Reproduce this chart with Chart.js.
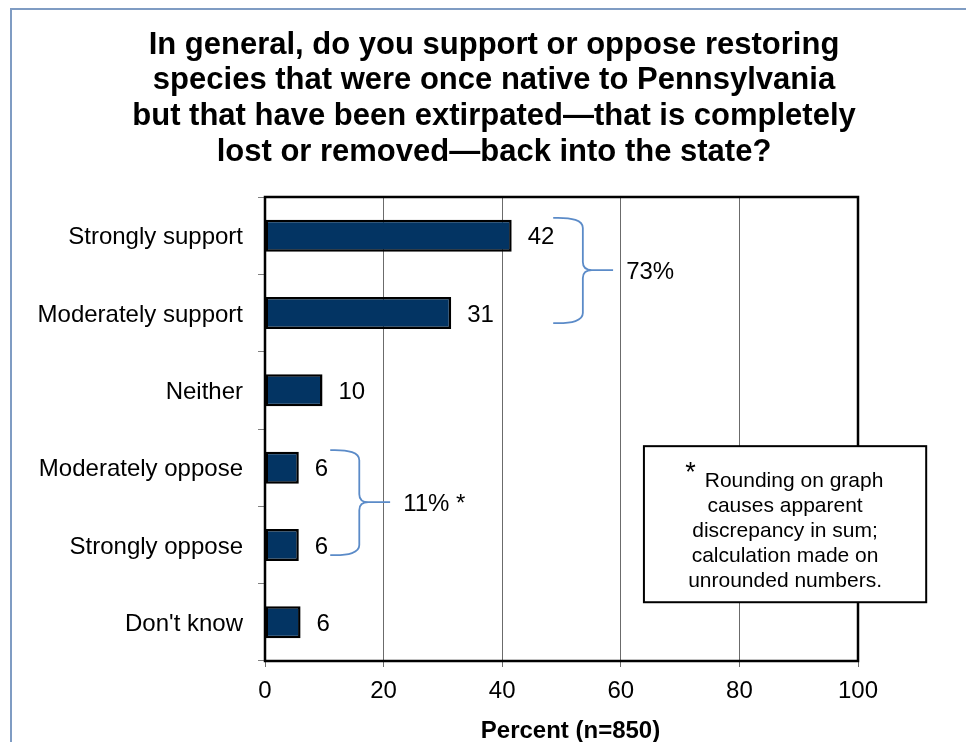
<!DOCTYPE html>
<html>
<head>
<meta charset="utf-8">
<script src="https://cdn.jsdelivr.net/npm/chart.js@4.4.0/dist/chart.umd.min.js"></script>
<style>
html, body { margin: 0; padding: 0; background: #fff; overflow: hidden; }
#frame { position: absolute; left: 10px; top: 8px; width: 1000px; height: 800px; border: 2px solid #7f9cc3; }
#c { position: absolute; left: 0; top: 0; }
</style>
</head>
<body>
<div id="frame"></div>
<canvas id="c" width="966" height="742"></canvas>
<script>
var FONT = '"Liberation Sans", Arial, sans-serif';

var titleLines = [
    "In general, do you support or oppose restoring",
    "species that were once native to Pennsylvania",
    "but that have been extirpated\u2014that is completely",
    "lost or removed\u2014back into the state?"
];
var categories = ["Strongly support", "Moderately support", "Neither", "Moderately oppose", "Strongly oppose", "Don't know"];
var percents = [41.6, 31.4, 9.7, 5.7, 5.7, 6.0];
var xTicks = [0, 20, 40, 60, 80, 100];
var xTitle = "Percent (n=850)";
var braceLabels = ["73%", "11% *"];
var noteStar = "*";
var noteLines = ["Rounding on graph", "causes apparent", "discrepancy in sum;", "calculation made on", "unrounded numbers."];

// brace + note placement, in axis units (x = percent, y = category index)
var braces = [
    { from: 48.6, spine: 53.6, tip: 58.7, top: -0.23, bottom: 1.13, mid: 0.445, text: 60.9 },
    { from: 11.0, spine: 15.9, tip: 21.1, top: 2.774, bottom: 4.13, mid: 3.446, text: 23.3 }
];
var note = { left: 63.9, right: 111.5, top: 2.722, bottom: 4.74 };

function drawBrace(ctx, xs, ys, b) {
    var x0 = xs.getPixelForValue(b.from), xv = xs.getPixelForValue(b.spine), xt = xs.getPixelForValue(b.tip);
    var yt = ys.getPixelForValue(b.top), yb = ys.getPixelForValue(b.bottom), ym = ys.getPixelForValue(b.mid);
    ctx.beginPath();
    ctx.moveTo(x0, yt);
    ctx.quadraticCurveTo(xv, yt - 1, xv, yt + 10);
    ctx.lineTo(xv, ym - 8);
    ctx.quadraticCurveTo(xv, ym, xv + 9, ym);
    ctx.lineTo(xt, ym);
    ctx.moveTo(xv + 9, ym);
    ctx.quadraticCurveTo(xv, ym, xv, ym + 8);
    ctx.lineTo(xv, yb - 10);
    ctx.quadraticCurveTo(xv, yb + 1, x0, yb);
    ctx.stroke();
}

var annot = {
    id: "annot",
    beforeDraw: function (chart) {
        // title, centred a little right of the canvas middle like the source
        var ctx = chart.ctx;
        ctx.save();
        ctx.font = "bold 31px " + FONT; ctx.fillStyle = "#000";
        ctx.textAlign = "center"; ctx.textBaseline = "middle";
        titleLines.forEach(function (t, i) { ctx.fillText(t, 494, 45 + i * 35.7); });
        ctx.restore();
    },
    afterDatasetsDraw: function (chart) {
        var ctx = chart.ctx, xs = chart.scales.x, ys = chart.scales.y, a = chart.chartArea;
        ctx.save();

        // frame round the plot
        ctx.lineWidth = 2.5; ctx.strokeStyle = "#000";
        ctx.strokeRect(a.left, a.top, a.right - a.left, a.bottom - a.top);

        // value labels
        ctx.font = "24px " + FONT; ctx.fillStyle = "#000";
        ctx.textBaseline = "middle"; ctx.textAlign = "left";
        chart.getDatasetMeta(0).data.forEach(function (bar, i) {
            ctx.fillText(String(Math.round(percents[i])), bar.x + 16, bar.y + 2);
        });

        // braces
        ctx.strokeStyle = "#5b8bc8"; ctx.lineWidth = 1.8;
        braces.forEach(function (b, i) {
            drawBrace(ctx, xs, ys, b);
            ctx.fillText(braceLabels[i], xs.getPixelForValue(b.text), ys.getPixelForValue(b.mid) + 2);
        });

        // note box
        var L = xs.getPixelForValue(note.left), R = xs.getPixelForValue(note.right);
        var T = ys.getPixelForValue(note.top), B = ys.getPixelForValue(note.bottom);
        ctx.fillStyle = "#fff"; ctx.fillRect(L, T, R - L, B - T);
        ctx.strokeStyle = "#000"; ctx.lineWidth = 2; ctx.strokeRect(L, T, R - L, B - T);
        var cx = (L + R) / 2;
        ctx.fillStyle = "#000"; ctx.font = "21px " + FONT; ctx.textAlign = "center";
        noteLines.forEach(function (t, i) {
            ctx.fillText(t, i === 0 ? cx + 9 : cx, T + 35 + i * 25);
        });
        var w0 = ctx.measureText(noteLines[0]).width;
        ctx.font = "27px " + FONT; ctx.textAlign = "right";
        ctx.fillText(noteStar, cx + 9 - w0 / 2 - 9, T + 27);

        // axis title
        ctx.font = "bold 24px " + FONT; ctx.textAlign = "center";
        ctx.fillText(xTitle, (a.left + a.right) / 2 + 9, 731);
        ctx.restore();
    }
};

new Chart(document.getElementById("c"), {
    type: "bar",
    data: {
        labels: categories,
        datasets: [{
            data: percents,
            backgroundColor: "#033463",
            borderColor: "#000",
            borderWidth: 2.5,
            borderSkipped: false,
            barPercentage: 0.414,
            categoryPercentage: 1
        }]
    },
    options: {
        indexAxis: "y",
        responsive: false,
        animation: false,
        devicePixelRatio: 1,
        layout: { padding: { left: 22, right: 108, top: 197, bottom: 0 } },
        plugins: {
            legend: { display: false },
            tooltip: { enabled: false },
            title: { display: false }
        },
        scales: {
            x: {
                min: 0, max: 100,
                afterBuildTicks: function (s) { s.ticks = xTicks.map(function (v) { return { value: v }; }); },
                afterFit: function (s) { s.height = 81; },
                grid: { color: "#6b6b6b", lineWidth: 1, tickLength: 6 },
                border: { display: false },
                ticks: { color: "#000", font: { family: FONT, size: 24 }, padding: 10, maxRotation: 0 }
            },
            y: {
                afterFit: function (s) { s.width = 243; },
                grid: { drawOnChartArea: false, drawTicks: true, tickLength: 7, color: "#808080", offset: true },
                border: { display: false },
                ticks: { color: "#000", font: { family: FONT, size: 24 }, padding: 15, labelOffset: 2 }
            }
        }
    },
    plugins: [annot]
});
</script>
</body>
</html>
